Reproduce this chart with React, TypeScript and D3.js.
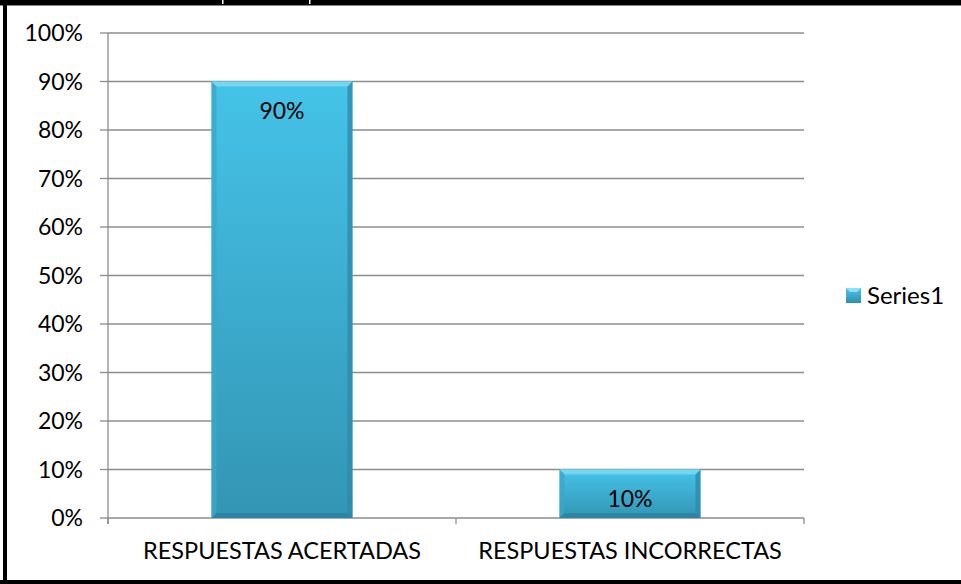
import React from "react";
import * as d3 from "d3";

const categories = ["RESPUESTAS ACERTADAS", "RESPUESTAS INCORRECTAS"];
const values = [0.9, 0.1];
const yTicks = [0, 0.1, 0.2, 0.3, 0.4, 0.5, 0.6, 0.7, 0.8, 0.9, 1.0];
const seriesName = "Series1";

const W = 961, H = 584;
const plot = { left: 108, right: 804, top: 33, bottom: 518 };
const FONT = "Lato, 'Open Sans', sans-serif";

export default function App() {
  const x = d3.scaleBand<string>().domain(categories).range([plot.left, plot.right]).paddingInner(0.595).paddingOuter(0.2975);
  const y = d3.scaleLinear().domain([0, 1]).range([plot.bottom, plot.top]);
  const fmt = d3.format(".0%");
  const bw = x.bandwidth();
  const step = x.step();
  const bev = 5;
  return (
    <div style={{ position: "absolute", left: 0, top: 0 }}>
      <svg width={W} height={H} style={{ display: "block" }} fontFamily={FONT}>
        <defs>
          <linearGradient id="barG" x1="0" y1="0" x2="0" y2="1">
            <stop offset="0" stopColor="#45c3e8" />
            <stop offset="1" stopColor="#3395b4" />
          </linearGradient>
          <linearGradient id="legG" x1="0" y1="0" x2="0" y2="1">
            <stop offset="0" stopColor="#4ec8ea" />
            <stop offset="1" stopColor="#2f8eac" />
          </linearGradient>
        </defs>
        <rect x={0} y={0} width={W} height={H} fill="#fff" />
        {/* page borders */}
        <rect x={0} y={0} width={W} height={5} fill="#000" />
        <rect x={0} y={5} width={W} height={1} fill="#888" />
        <rect x={222} y={0} width={1.5} height={4} fill="#fff" />
        <rect x={309} y={0} width={1.5} height={4} fill="#fff" />
        <rect x={3} y={0} width={4} height={H} fill="#000" />
        <rect x={0} y={580} width={W} height={4} fill="#000" />
        {/* gridlines */}
        {yTicks.map((t) => (
          <line key={"g" + t} x1={plot.left} x2={plot.right} y1={y(t)} y2={y(t)} stroke="#8c8c8c" strokeWidth={1.3} />
        ))}
        {/* y axis */}
        <line x1={plot.left} x2={plot.left} y1={plot.top} y2={plot.bottom + 6} stroke="#8c8c8c" strokeWidth={1.3} />
        {yTicks.map((t) => (
          <g key={"t" + t}>
            <line x1={plot.left - 8} x2={plot.left} y1={y(t)} y2={y(t)} stroke="#8c8c8c" strokeWidth={1.3} />
            <text x={83} y={y(t)} dy="0.35em" textAnchor="end" fontSize={23} fill="#000">{fmt(t)}</text>
          </g>
        ))}
        {/* x ticks */}
        {[0, 1, 2].map((i) => (
          <line key={"xt" + i} x1={plot.left + i * step} x2={plot.left + i * step} y1={plot.bottom} y2={plot.bottom + 6} stroke="#8c8c8c" strokeWidth={1.3} />
        ))}
        {/* bars */}
        {categories.map((c, i) => {
          const x0 = x(c)!;
          const x1 = x0 + bw;
          const y0 = y(values[i]);
          const y1 = y(0);
          return (
            <g key={c}>
              <rect x={x0} y={y0} width={bw} height={y1 - y0} fill="url(#barG)" />
              <polygon points={`${x0},${y0} ${x1},${y0} ${x1 - bev},${y0 + bev} ${x0 + bev},${y0 + bev}`} fill="#7ddaf3" opacity={0.85} />
              <polygon points={`${x0},${y0} ${x0 + bev},${y0 + bev} ${x0 + bev},${y1 - bev} ${x0},${y1}`} fill="#3aa7cb" opacity={0.8} />
              <polygon points={`${x1},${y0} ${x1 - bev},${y0 + bev} ${x1 - bev},${y1 - bev} ${x1},${y1}`} fill="#2d8bab" opacity={0.8} />
              <polygon points={`${x0},${y1} ${x1},${y1} ${x1 - bev},${y1 - bev} ${x0 + bev},${y1 - bev}`} fill="#2a819f" opacity={0.8} />
              <text x={x0 + bw / 2} y={y0 + 29} dy="0.35em" textAnchor="middle" fontSize={23} fill="#000">{fmt(values[i])}</text>
              <text x={x0 + bw / 2} y={559} textAnchor="middle" fontSize={23.5} fill="#000">{c}</text>
            </g>
          );
        })}
        {/* legend */}
        <rect x={846} y={288} width={15} height={15} fill="url(#legG)" />
        <polygon points="846,288 861,288 857,292 850,292" fill="#8fe0f5" />
        <text x={867} y={296} dy="0.35em" fontSize={24} fill="#000">{seriesName}</text>
      </svg>
    </div>
  );
}
